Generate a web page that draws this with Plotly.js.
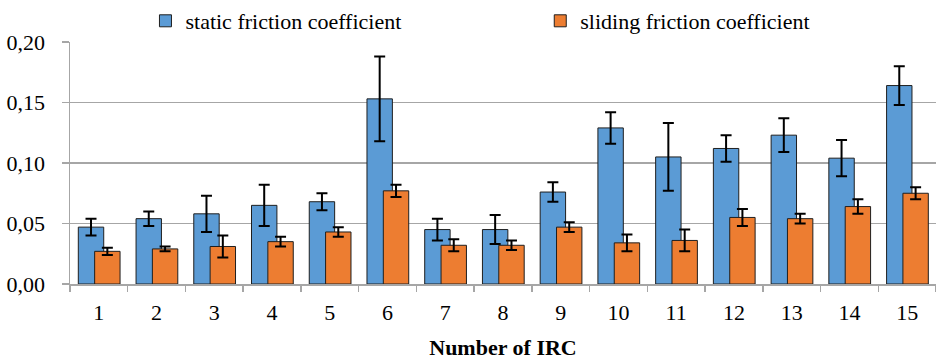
<!DOCTYPE html>
<html>
<head>
<meta charset="utf-8">
<script src="https://cdn.plot.ly/plotly-3.0.1.min.js"></script>
<style>
html,body{margin:0;padding:0;background:#fff;}
#chart{width:936px;height:360px;font-family:'Liberation Serif','Times New Roman',serif;}
#chart text{font-family:'Liberation Serif','Times New Roman',serif !important;}
</style>
</head>
<body>
<div id="chart"></div>
<script>
const categories = ['1','2','3','4','5','6','7','8','9','10','11','12','13','14','15'];
const staticFriction = [0.047,0.054,0.058,0.065,0.068,0.153,0.045,0.045,0.076,0.129,0.105,0.112,0.123,0.104,0.164];
const staticErr      = [0.007,0.006,0.015,0.017,0.007,0.035,0.009,0.012,0.008,0.013,0.028,0.011,0.014,0.015,0.016];
const slidingFriction = [0.027,0.029,0.031,0.035,0.043,0.077,0.032,0.032,0.047,0.034,0.036,0.055,0.054,0.064,0.075];
const slidingErr      = [0.003,0.002,0.009,0.004,0.004,0.005,0.005,0.004,0.004,0.007,0.009,0.007,0.004,0.006,0.005];

function f() { return {family: 'Times New Roman', size: 22, color: '#000000'}; }

const traces = [
  {
    type: 'bar', name: 'static friction coefficient', legend: 'legend',
    x: categories, y: staticFriction,
    width: 0.44, offset: -0.356,
    marker: {color: '#5B9BD5', line: {color: '#1f1f1f', width: 1}},
    error_y: {type: 'data', array: staticErr, visible: true, color: '#000', thickness: 2, width: 5.5}
  },
  {
    type: 'bar', name: 'sliding friction coefficient', legend: 'legend2',
    x: categories, y: slidingFriction,
    width: 0.44, offset: -0.073,
    marker: {color: '#ED7D31', line: {color: '#1f1f1f', width: 1}},
    error_y: {type: 'data', array: slidingErr, visible: true, color: '#000', thickness: 2, width: 5.5}
  }
];

const layout = {
  width: 936, height: 360,
  margin: {l: 70, r: 0, t: 38, b: 76},
  barmode: 'overlay',
  separators: ', ',
  font: f(),
  paper_bgcolor: '#fff', plot_bgcolor: '#fff',
  showlegend: true,
  legend: {orientation: 'h', xref: 'container', yref: 'container', xanchor: 'left', yanchor: 'top', y: 1.0, x: 0.1554,
           font: f(), bgcolor: 'rgba(0,0,0,0)', itemwidth: 30},
  legend2: {orientation: 'h', xref: 'container', yref: 'container', xanchor: 'right', yanchor: 'top', y: 1.0, x: 0.871,
           font: f(), bgcolor: 'rgba(0,0,0,0)', itemwidth: 30},
  xaxis: {
    type: 'category', tickson: 'boundaries', ticks: 'outside', ticklen: 6, tickcolor: '#a6a6a6', tickwidth: 1.5,
    showline: true, linecolor: '#a6a6a6', linewidth: 1.5, showgrid: false,
    tickfont: f(), ticklabelstandoff: 8,
    title: {text: '<b>Number of IRC</b>', font: f(), standoff: 16}
  },
  yaxis: {
    range: [0, 0.2], dtick: 0.05, tick0: 0, tickformat: '.2f',
    ticks: 'outside', ticklen: 7, tickcolor: '#a6a6a6', tickwidth: 1.5,
    showline: true, linecolor: '#a6a6a6', linewidth: 1.5,
    showgrid: true, gridcolor: '#a6a6a6', gridwidth: 1.5, zeroline: false,
    tickfont: f(), ticklabelstandoff: 12
  }
};

const config = {displayModeBar: false, staticPlot: true};
Plotly.newPlot('chart', traces, layout, config);

if (document.fonts && document.fonts.load) {
  Promise.all([
    document.fonts.load('22px "Times New Roman"'),
    document.fonts.load('bold 22px "Times New Roman"')
  ]).then(function () {
    Plotly.react('chart', traces, Object.assign({}, layout, {datarevision: 2}), config);
  }).catch(function () {});
}
</script>
</body>
</html>
